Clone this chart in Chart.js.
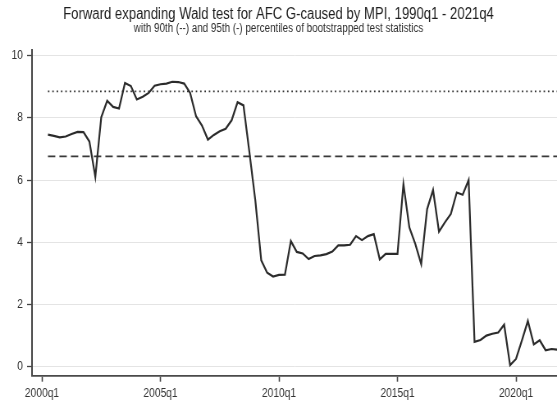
<!DOCTYPE html>
<html>
<head>
<meta charset="utf-8">
<script src="https://cdn.jsdelivr.net/npm/chart.js@4/dist/chart.umd.min.js"></script>
<style>
  html, body { margin: 0; padding: 0; background: #ffffff; }
  #wrap { width: 557px; height: 406px; overflow: hidden; }
  /* the graph is laid out on a wider canvas and shown narrowed to 557px */
  #chart { display: block; width: 557px; height: 406px; }
</style>
</head>
<body>
<div id="wrap"><canvas id="chart" width="679" height="406" style="width:557px;height:406px"></canvas></div>
<script>
// Forward expanding Wald statistic, one value per quarter from 2000q2 to 2021q4
const firstQuarter = '2000q2';
const waldStat = [
  7.46, 7.42, 7.37,                                     // 2000
  7.40, 7.48, 7.55, 7.54,                               // 2001
  7.24, 6.10, 8.02, 8.55,                               // 2002
  8.35, 8.30, 9.12, 9.02,                               // 2003
  8.59, 8.68, 8.80, 9.03,                               // 2004
  9.08, 9.10, 9.16, 9.15,                               // 2005
  9.10, 8.80, 8.05, 7.75,                               // 2006
  7.30, 7.45, 7.57, 7.65,                               // 2007
  7.92, 8.50, 8.40, 6.90,                               // 2008
  5.35, 3.42, 3.02, 2.90,                               // 2009
  2.95, 2.96, 4.04, 3.69,                               // 2010
  3.64, 3.46, 3.56, 3.58,                               // 2011
  3.62, 3.70, 3.90, 3.90,                               // 2012
  3.92, 4.20, 4.07, 4.20,                               // 2013
  4.26, 3.45, 3.63, 3.63,                               // 2014
  3.63, 5.87, 4.48, 3.95,                               // 2015
  3.30, 5.07, 5.68, 4.34,                               // 2016
  4.64, 4.91, 5.60, 5.53,                               // 2017
  6.00, 0.80, 0.86, 1.00,                               // 2018
  1.06, 1.10, 1.35, 0.05,                               // 2019
  0.25, 0.85, 1.47, 0.72,                               // 2020
  0.85, 0.53, 0.57, 0.55                                // 2021
];

// Bootstrapped critical values
const pct90 = 6.76;   // dashed
const pct95 = 8.85;   // dotted

const xTickLabels = ['2000q1', '2005q1', '2010q1', '2015q1', '2020q1'];
const yTicks = [0, 2, 4, 6, 8, 10];

// quarter string -> number of quarters since 2000q1
function quarterIndex(q) {
  const [y, k] = q.split('q').map(Number);
  return (y - 2000) * 4 + (k - 1);
}
function quarterLabel(i) {
  return (2000 + Math.floor(i / 4)) + 'q' + ((i % 4) + 1);
}

const startIdx = quarterIndex(firstQuarter);
const quarters = waldStat.map((_, k) => quarterLabel(startIdx + k));
const lastIdx = quarterIndex(quarters[quarters.length - 1]);

const waldPoints = quarters.map((q, k) => ({ x: quarterIndex(q), y: waldStat[k] }));
const p90Points = [{ x: startIdx, y: pct90 }, { x: lastIdx, y: pct90 }];
const p95Points = [{ x: startIdx, y: pct95 }, { x: lastIdx, y: pct95 }];

const FONT = "'Liberation Sans', Arial, Helvetica, sans-serif";
const INK = '#333333';

new Chart(document.getElementById('chart'), {
  type: 'line',
  data: {
    datasets: [
      {
        label: 'Wald statistic',
        data: waldPoints,
        borderColor: '#2b2b2b',
        borderWidth: 2.2,
        pointRadius: 0,
        tension: 0,
        fill: false
      },
      {
        label: '95th percentile',
        data: p95Points,
        borderColor: '#333333',
        borderWidth: 1.7,
        borderDash: [1.8, 3.5],
        pointRadius: 0,
        fill: false
      },
      {
        label: '90th percentile',
        data: p90Points,
        borderColor: '#3a3a3a',
        borderWidth: 1.9,
        borderDash: [9, 5],
        pointRadius: 0,
        fill: false
      }
    ]
  },
  options: {
    responsive: false,
    animation: false,
    devicePixelRatio: 1,
    layout: { padding: 0 },
    plugins: {
      legend: { display: false },
      tooltip: { enabled: false },
      title: {
        display: true,
        text: 'Forward expanding Wald test for AFC G-caused by MPI, 1990q1 - 2021q4',
        color: '#1e1e1e',
        font: { family: FONT, size: 16, weight: 'normal', lineHeight: 1.0 },
        padding: { top: 7, bottom: 0 }
      },
      subtitle: {
        display: true,
        text: 'with 90th (--) and 95th (-) percentiles of bootstrapped test statistics',
        color: '#2e2e2e',
        font: { family: FONT, size: 12, weight: 'normal', lineHeight: 1.0 },
        padding: { top: 0, bottom: 15 }
      }
    },
    scales: {
      x: {
        type: 'linear',
        min: -1.688,
        max: 86.92,
        afterBuildTicks: (s) => { s.ticks = xTickLabels.map(l => ({ value: quarterIndex(l) })); },
        afterFit: (s) => { s.height = 30.3; },
        ticks: {
          callback: (v) => quarterLabel(v),
          color: INK,
          font: { family: FONT, size: 12.5 },
          padding: 4,
          maxRotation: 0,
          autoSkip: false
        },
        grid: {
          drawOnChartArea: false,
          drawTicks: true,
          tickLength: 6,
          tickColor: '#444444',
          tickWidth: 1.6
        },
        border: { display: true, color: '#4a4a4a', width: 1.7 }
      },
      y: {
        type: 'linear',
        min: -0.288,
        max: 10.18,
        afterBuildTicks: (s) => { s.ticks = yTicks.map(v => ({ value: v })); },
        afterFit: (s) => { s.width = 39; },
        ticks: {
          color: INK,
          font: { family: FONT, size: 12.5 },
          padding: 5
        },
        grid: {
          color: '#e4e4e4',
          lineWidth: 1,
          drawTicks: true,
          tickLength: 6,
          tickColor: '#444444',
          tickWidth: 1.3
        },
        border: { display: true, color: '#4a4a4a', width: 2 }
      }
    }
  }
});
</script>
</body>
</html>
